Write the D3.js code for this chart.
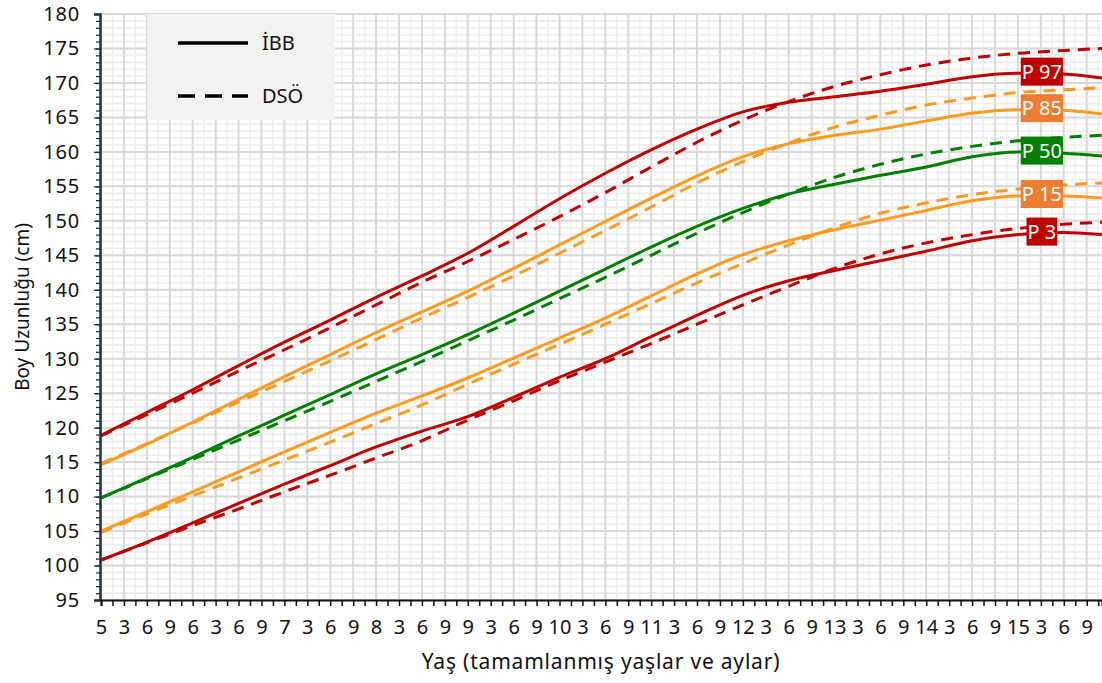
<!DOCTYPE html>
<html>
<head>
<meta charset="utf-8">
<script src="https://cdn.jsdelivr.net/npm/d3@7/dist/d3.min.js"></script>
<style>
  html, body { margin: 0; padding: 0; background: #fff; }
  svg { display: block; }
  text { font-family: "Noto Sans", "Lato", sans-serif; fill: #111; }
</style>
</head>
<body>
<svg id="chart" width="1102" height="683"></svg>
<script>
// Age in completed months (5y0m … 15y11m), half-year steps
const ageMonths = [60, 66, 72, 78, 84, 90, 96, 102, 108, 114, 120, 126, 132, 138, 144, 150, 156, 162, 168, 174, 180, 186, 191];

// İBB reference (solid lines), height in cm
const ibbP3  = [100.8, 103.4, 106.2, 109.0, 111.8, 114.5, 117.2, 119.5, 121.6, 124.4, 127.3, 130.0, 133.2, 136.3, 139.2, 141.3, 142.8, 144.2, 145.6, 147.1, 148.0, 148.3, 148.0];
const ibbP15 = [105.0, 107.8, 110.7, 113.6, 116.5, 119.3, 122.1, 124.6, 127.2, 130.1, 133.0, 135.9, 139.1, 142.3, 145.1, 147.1, 148.7, 150.1, 151.5, 152.9, 153.6, 153.6, 153.3];
const ibbP50 = [109.8, 112.7, 115.7, 118.8, 121.8, 124.8, 127.8, 130.6, 133.5, 136.6, 139.8, 143.0, 146.2, 149.2, 151.8, 153.9, 155.3, 156.6, 157.8, 159.3, 160.0, 159.8, 159.4];
const ibbP85 = [114.6, 117.6, 120.8, 124.1, 127.4, 130.6, 133.8, 136.8, 139.8, 143.1, 146.5, 149.9, 153.3, 156.5, 159.3, 161.2, 162.4, 163.3, 164.5, 165.6, 166.1, 166.0, 165.5];
const ibbP97 = [118.9, 122.2, 125.5, 129.0, 132.4, 135.6, 138.9, 142.0, 145.3, 149.2, 153.2, 156.9, 160.3, 163.3, 165.8, 167.2, 168.0, 168.8, 169.8, 170.9, 171.4, 171.3, 170.7];

// DSÖ reference (dashed lines), height in cm
const dsoP3  = [100.8, 103.3, 105.8, 108.2, 110.7, 113.1, 115.6, 118.1, 121.1, 123.9, 126.8, 129.5, 132.2, 135.0, 137.8, 140.5, 143.1, 145.2, 146.8, 148.0, 148.9, 149.5, 149.8];
const dsoP15 = [104.8, 107.5, 110.1, 112.7, 115.3, 117.9, 120.6, 123.3, 126.3, 129.2, 132.1, 135.0, 138.0, 141.0, 143.8, 146.5, 149.0, 151.1, 152.6, 153.8, 154.6, 155.2, 155.5];
const dsoP50 = [109.8, 112.6, 115.4, 118.2, 121.0, 123.8, 126.7, 129.6, 132.6, 135.6, 138.7, 141.8, 145.0, 148.2, 151.2, 153.9, 156.3, 158.2, 159.7, 160.8, 161.6, 162.1, 162.4];
const dsoP85 = [114.8, 117.7, 120.7, 123.7, 126.7, 129.7, 132.8, 135.9, 138.9, 142.0, 145.3, 148.6, 152.0, 155.5, 158.6, 161.3, 163.6, 165.3, 166.8, 167.8, 168.6, 169.0, 169.3];
const dsoP97 = [118.8, 121.9, 125.0, 128.2, 131.3, 134.5, 137.8, 141.1, 144.1, 147.3, 150.6, 154.1, 157.8, 161.4, 164.6, 167.3, 169.5, 171.2, 172.6, 173.6, 174.3, 174.7, 175.0];

const percentileNames = ["P 97", "P 85", "P 50", "P 15", "P 3"];
const lineColors  = ["#c00000", "#ff9a1e", "#008000", "#ff9a1e", "#c00000"];
const labelColors = ["#c00000", "#ed7d31", "#008000", "#ed7d31", "#c00000"];
const ibbSeries = [ibbP97, ibbP85, ibbP50, ibbP15, ibbP3];
const dsoSeries = [dsoP97, dsoP85, dsoP50, dsoP15, dsoP3];

const yTicks = d3.range(95, 181, 5);
const legendNames = ["İBB", "DSÖ"];
const xTitle = "Yaş (tamamlanmış yaşlar ve aylar)";
const yTitle = "Boy Uzunluğu (cm)";
const labelAgeMonth = 183;

const svg = d3.select("#chart");
const plot = { left: 100, right: 1102, top: 14, bottom: 600 };

const x = d3.scaleLinear().domain([60, 191]).range([plot.left + 1, plot.right]);
const y = d3.scaleLinear().domain([95, 180]).range([plot.bottom, plot.top]);

// grid: minor every 1.5 months / 1 cm, major every 3 months / 5 cm
const grid = svg.append("g");
grid.selectAll("line.vmin").data(d3.range(60, 192, 1.5)).join("line")
  .attr("x1", d => x(d)).attr("x2", d => x(d))
  .attr("y1", plot.top).attr("y2", plot.bottom)
  .attr("stroke", "#efefef").attr("stroke-width", 1.5);
grid.selectAll("line.hmin").data(d3.range(95, 181, 1)).join("line")
  .attr("x1", plot.left).attr("x2", plot.right)
  .attr("y1", d => y(d)).attr("y2", d => y(d))
  .attr("stroke", "#efefef").attr("stroke-width", 2);
grid.selectAll("line.vmaj").data(d3.range(60, 192, 3)).join("line")
  .attr("x1", d => x(d)).attr("x2", d => x(d))
  .attr("y1", plot.top).attr("y2", plot.bottom)
  .attr("stroke", "#d9d9d9").attr("stroke-width", 2);
grid.selectAll("line.hmaj").data(yTicks).join("line")
  .attr("x1", plot.left).attr("x2", plot.right)
  .attr("y1", d => y(d)).attr("y2", d => y(d))
  .attr("stroke", "#d9d9d9").attr("stroke-width", 2);

// legend panel
const lg = svg.append("g");
lg.append("rect").attr("x", 147).attr("y", 14).attr("width", 188).attr("height", 106).attr("fill", "#f2f2f2");
lg.append("line").attr("x1", 178).attr("x2", 248).attr("y1", 43).attr("y2", 43)
  .attr("stroke", "#000").attr("stroke-width", 3.5);
lg.append("line").attr("x1", 178).attr("x2", 248).attr("y1", 96).attr("y2", 96)
  .attr("stroke", "#000").attr("stroke-width", 3.5).attr("stroke-dasharray", "17,10");
lg.append("text").attr("x", 262).attr("y", 43).attr("dy", "0.35em").style("font-size", "20px").text(legendNames[0]);
lg.append("text").attr("x", 262).attr("y", 96).attr("dy", "0.35em").style("font-size", "20px").text(legendNames[1]);

// curves
const line = d3.line().x((d, i) => x(ageMonths[i])).y(d => y(d)).curve(d3.curveMonotoneX);
const curves = svg.append("g").attr("fill", "none").attr("stroke-linecap", "butt");
dsoSeries.forEach((s, k) => {
  curves.append("path").attr("d", line(s)).attr("stroke", lineColors[k])
    .attr("stroke-width", 3).attr("stroke-dasharray", "12,8");
});
ibbSeries.forEach((s, k) => {
  curves.append("path").attr("d", line(s)).attr("stroke", lineColors[k])
    .attr("stroke-width", 3);
});

// percentile tags on the solid curves
const bis = d3.bisector(d => d).left;
function valueAt(series, m) {
  const i = Math.max(1, bis(ageMonths, m));
  const t = (m - ageMonths[i - 1]) / (ageMonths[i] - ageMonths[i - 1]);
  return series[i - 1] + t * (series[i] - series[i - 1]);
}
const tags = svg.append("g");
percentileNames.forEach((name, k) => {
  const cx = x(labelAgeMonth) + 1;
  const cy = y(valueAt(ibbSeries[k], labelAgeMonth)) - 2;
  const t = tags.append("text").attr("x", cx).attr("y", cy).attr("dy", "0.36em")
    .attr("text-anchor", "middle").style("font-size", "20px").style("fill", "#fff").text(name);
  const bb = t.node().getBBox();
  tags.insert("rect", () => t.node())
    .attr("x", bb.x - 1).attr("y", cy - 14).attr("width", bb.width + 2).attr("height", 28)
    .attr("fill", labelColors[k]);
});

// axes
const yAxisMinor = d3.axisLeft(y).tickValues(d3.range(95, 181, 1)).tickSize(4).tickFormat("");
svg.append("g").attr("transform", `translate(${plot.left},0)`).call(yAxisMinor)
  .call(g => g.select(".domain").remove())
  .call(g => g.selectAll("line").attr("stroke", "#1f3344").attr("stroke-width", 1.3));
const yAxis = d3.axisLeft(y).tickValues(yTicks).tickSize(6).tickPadding(14).tickFormat(d3.format("d"));
svg.append("g").attr("transform", `translate(${plot.left},0)`).call(yAxis)
  .call(g => g.select(".domain").attr("stroke", "#1f3344").attr("stroke-width", 2.5))
  .call(g => g.selectAll("line").attr("stroke", "#1f3344").attr("stroke-width", 1.3))
  .call(g => g.selectAll("text").style("font-size", "20px").style("letter-spacing", "0.8px")
    .style("font-family", "Noto Sans").attr("fill", "#111"));

const xTickVals = d3.range(60, 192, 1.5);
const xAxisTicks = d3.axisBottom(x).tickValues(xTickVals).tickSize(6).tickFormat("");
svg.append("g").attr("transform", `translate(0,${plot.bottom})`).call(xAxisTicks)
  .call(g => g.select(".domain").attr("stroke", "#111").attr("stroke-width", 2))
  .call(g => g.selectAll("line").attr("stroke", "#111").attr("stroke-width", 1.5));
const xLabelVals = d3.range(60, 190, 3);
const xAxisLabels = d3.axisBottom(x).tickValues(xLabelVals).tickSize(0).tickPadding(20)
  .tickFormat(m => (m % 12 === 0 ? String(m / 12) : String(m % 12)));
svg.append("g").attr("transform", `translate(0,${plot.bottom})`).call(xAxisLabels)
  .call(g => g.select(".domain").remove())
  .call(g => g.selectAll("text").style("font-size", "20px").style("font-family", "Noto Sans").attr("fill", "#111"));

// titles
svg.append("text").attr("x", 601).attr("y", 662).attr("dy", "0.35em").attr("text-anchor", "middle")
  .style("font-size", "21px").style("letter-spacing", "0.8px").text(xTitle);
svg.append("text").attr("transform", "translate(22,307) rotate(-90)").attr("dy", "0.35em")
  .attr("text-anchor", "middle").style("font-size", "19px").text(yTitle);
</script>
</body>
</html>
